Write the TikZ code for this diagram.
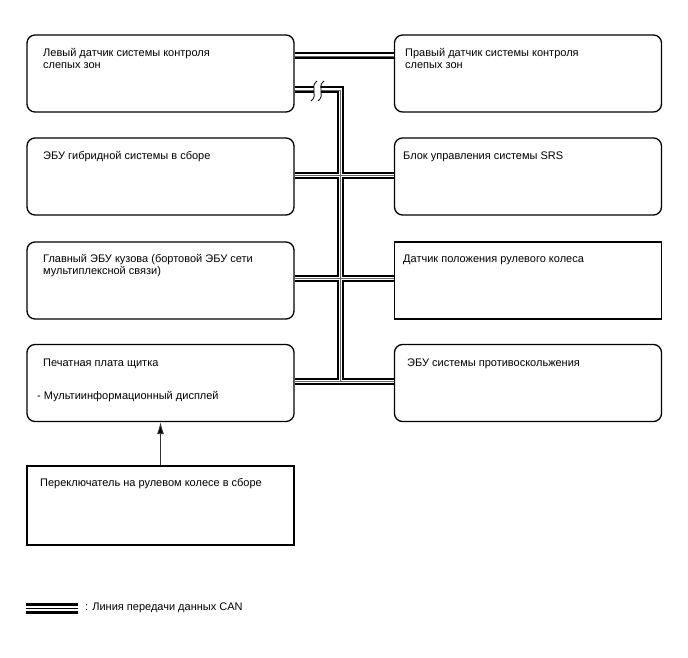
\documentclass[tikz,border=0pt]{standalone}
\usepackage{fontspec}
\setmainfont{Liberation Sans}
\usetikzlibrary{arrows.meta,positioning}
\tikzset{
  unit/.style={draw, rounded corners=8pt, line width=1.3pt, minimum width=267pt, minimum height=77pt, inner sep=0pt},
  plainunit/.style={draw, line width=1.3pt, minimum width=267pt, minimum height=77pt, inner sep=0pt},
  unittext/.style={anchor=base west, inner sep=0pt, align=left, font=\fontsize{11}{12.5}\selectfont},
  signal/.style={-{Latex[length=12pt,width=7pt,fill=black]}, line width=0.9pt, black!80},
  breakmark/.style={line width=0.8pt, black}
}

\begin{document}
\begin{tikzpicture}[x=1pt,y=-1pt]
  \useasboundingbox (0,0) rectangle (688,658);

  \node[unit] (lbsm) at (160.5,73.5) {};
  \node[unit] (rbsm) at (528,73.5) {};
  \node[unit] (hvecu) at (160.5,176.5) {};
  \node[unit] (srs) at (528,176.5) {};
  \node[unit] (mainbody) at (160.5,280.5) {};
  \node[plainunit] (steersens) at (528,280.5) {};
  \node[unit] (meter) at (160.5,383) {};
  \node[unit] (skid) at (528,383) {};
  \node[plainunit, minimum height=79pt] (swsw) at (160.5,505.5) {};

  \node[unittext] (lbsm text) at (43,69) {Левый датчик системы контроля\\слепых зон};
  \node[unittext] (rbsm text) at (405,69) {Правый датчик системы контроля\\слепых зон};
  \node[unittext] (hvecu text) at (43,159.5) {ЭБУ гибридной системы в сборе};
  \node[unittext] (srs text) at (403,159.5) {Блок управления системы SRS};
  \node[unittext] (mainbody text) at (43,274.5) {Главный ЭБУ кузова (бортовой ЭБУ сети\\мультиплексной связи)};
  \node[unittext] (steersens text) at (403,262) {Датчик положения рулевого колеса};
  \node[unittext] (meter text) at (43,366.5) {Печатная плата щитка};
  \node[unittext] (meter sub) at (37,399) {- Мультиинформационный дисплей};
  \node[unittext] (skid text) at (407,366.5) {ЭБУ системы противоскольжения};
  \node[unittext] (swsw text) at (40,486.5) {Переключатель на рулевом колесе в сборе};

  \coordinate (trunk) at (340,381);
  \foreach \busw/\busc in {7/black, 3/white, 0.9/black!60} {
    \draw[line width=\busw pt, \busc] ([yshift=17.5pt]lbsm.east) -- ([yshift=17.5pt]rbsm.west);
    \draw[line width=\busw pt, \busc] ([yshift=-16.5pt]lbsm.east) -| (trunk);
    \draw[line width=\busw pt, \busc] ([yshift=1pt]hvecu.east) -- ([yshift=1pt]srs.west);
    \draw[line width=\busw pt, \busc] ([yshift=2pt]mainbody.east) -- ([yshift=2pt]steersens.west);
    \draw[line width=\busw pt, \busc] ([yshift=2pt]meter.east) -- ([yshift=2pt]skid.west);
  }

  \fill[white] (313.5,84) rectangle (320.5,96);
  \draw[breakmark] (317,81) .. controls (309,87) and (319,95) .. (311,101);
  \draw[breakmark] (324,81) .. controls (316,87) and (326,95) .. (318,101);

  \draw[signal] (swsw.north) -- (meter.south);

  \coordinate (key left) at (26,608.5);
  \coordinate (key right) at (78,608.5);
  \foreach \busw/\busc in {10.5/black, 5/white, 1.4/black} {
    \draw[line width=\busw pt, \busc] (key left) -- (key right);
  }
  \node[unittext, anchor=west] (key text) at (85,607.5) {: Линия передачи данных CAN};
\end{tikzpicture}
\end{document}
